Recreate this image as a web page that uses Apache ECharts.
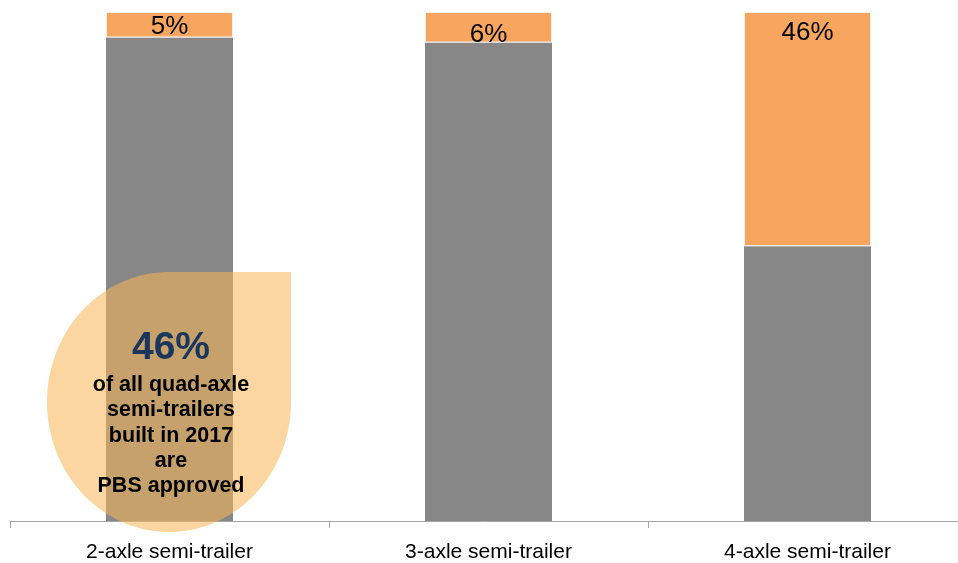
<!DOCTYPE html>
<html>
<head>
<meta charset="utf-8">
<script src="https://cdn.jsdelivr.net/npm/echarts@6/dist/echarts.min.js"></script>
<style>html,body{margin:0;padding:0;background:#fff}#c{width:958px;height:563px}</style>
</head>
<body>
<div id="c"></div>
<script>
const categories = ['2-axle semi-trailer', '3-axle semi-trailer', '4-axle semi-trailer'];
const otherShare = [95, 94, 54];
const pbsShare = [5, 6, 46];
const pbsLabels = ['5%', '6%', '46%'];
const calloutValue = '46%';
const calloutLines = ['of all quad-axle', 'semi-trailers', 'built in 2017', 'are', 'PBS approved'];

const FONT = '"Liberation Sans", Arial, sans-serif';
const labelDist = [2, 10, 8];

const chart = echarts.init(document.getElementById('c'), null, {renderer: 'canvas'});

// callout badge: ellipse with a square top-right corner
const cx = 169, cy = 402, rx = 122, ry = 130;
const pts = [];
for (let k = 0; k <= 120; k++) {
  const t = (-90 - 270 * k / 120) * Math.PI / 180;
  pts.push([cx + rx * Math.cos(t), cy + ry * Math.sin(t)]);
}
pts.push([cx + rx, cy - ry]);

const graphics = [
  {
    type: 'polygon',
    shape: {points: pts},
    style: {fill: 'rgba(247,181,86,0.56)'},
    z: 100
  },
  {
    type: 'text',
    x: 171, y: 348,
    style: {
      text: calloutValue, fill: '#1b365d', font: 'bold 39px ' + FONT,
      align: 'center', verticalAlign: 'middle'
    },
    z: 101
  }
];
calloutLines.forEach((t, i) => {
  graphics.push({
    type: 'text',
    x: 171, y: 385 + i * 25.3,
    style: {
      text: t, fill: '#000', font: 'bold 21.5px ' + FONT,
      align: 'center', verticalAlign: 'middle'
    },
    z: 101
  });
});

chart.setOption({
  animation: false,
  backgroundColor: '#fff',
  grid: {left: 10, right: -9, top: 12, bottom: 42, containLabel: false, outerBoundsMode: 'none'},
  xAxis: {
    type: 'category',
    data: categories,
    axisLine: {lineStyle: {color: '#a6a6a6', width: 1}},
    axisTick: {show: true, length: 7, lineStyle: {color: '#a6a6a6'}},
    axisLabel: {color: '#000', fontFamily: FONT, fontSize: 21, margin: 21}
  },
  yAxis: {
    type: 'value', min: 0, max: 100, show: false,
    splitLine: {show: false}
  },
  series: [
    {
      type: 'bar', stack: 'a', barWidth: 127,
      data: otherShare,
      itemStyle: {color: '#878787'}
    },
    {
      type: 'bar', stack: 'a', barWidth: 127,
      data: pbsShare.map((v, i) => ({
        value: v,
        label: {distance: labelDist[i]}
      })),
      itemStyle: {color: '#f8a55f', borderColor: '#f2f2f2', borderWidth: 1},
      label: {
        show: true, position: 'insideTop',
        formatter: p => pbsLabels[p.dataIndex],
        color: '#000', fontFamily: FONT, fontSize: 26
      }
    }
  ],
  graphic: graphics
});
</script>
</body>
</html>
